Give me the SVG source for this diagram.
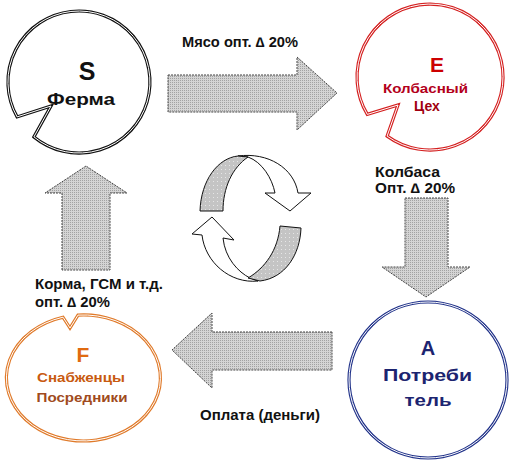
<svg xmlns="http://www.w3.org/2000/svg" width="529" height="470" viewBox="0 0 529 470">
<defs>
<pattern id="dots" width="2" height="2" patternUnits="userSpaceOnUse">
<rect width="2" height="2" fill="#d4d4d4"/>
<rect width="1" height="1" fill="#a2a2a2"/>
</pattern>
<pattern id="band" width="4" height="4" patternUnits="userSpaceOnUse">
<rect width="4" height="4" fill="#c4c4c4"/>
<rect x="1" y="1" width="1" height="1" fill="#e6e6e6"/>
</pattern>
</defs>
<style>
.bg{fill:#ffffff}
.arrow{fill:url(#dots);stroke:#444444;stroke-width:1;stroke-dasharray:2 1}
.inner{fill:none;stroke:#ffffff;stroke-width:1}
.lbl{font-family:"Liberation Sans",Arial,sans-serif;font-weight:bold;font-size:14px;fill:#111111}
.t{font-family:"Liberation Sans",Arial,sans-serif;font-weight:bold;text-anchor:middle}
.cw{fill:#ffffff;stroke:#111111;stroke-width:1}
.cg{fill:url(#band);stroke:#111111;stroke-width:1}
</style>
<rect class="bg" width="529" height="470"/>

<g id="connectors">
<path class="arrow" d="M168,75 L297,75 L297,57 L337,93 L297,130 L297,112 L168,112 Z"/>
<path class="arrow" d="M405,198 L448,198 L448,267 L470,267 L426,297 L382,267 L405,267 Z"/>
<path class="arrow" d="M332,332 L212,332 L212,313 L172,350 L212,388 L212,370 L332,370 Z"/>
<path class="arrow" d="M62,270 L62,193 L45,193 L86,166 L127,193 L110,193 L110,270 Z"/>
<text class="lbl" x="182" y="47" textLength="116" lengthAdjust="spacingAndGlyphs">Мясо опт. ∆ 20%</text>
<text class="lbl" x="375" y="177" textLength="65" lengthAdjust="spacingAndGlyphs">Колбаса</text>
<text class="lbl" x="375" y="193" textLength="80" lengthAdjust="spacingAndGlyphs">Опт. ∆ 20%</text>
<text class="lbl" x="35" y="289" textLength="128" lengthAdjust="spacingAndGlyphs">Корма, ГСМ и т.д.</text>
<text class="lbl" x="35" y="307" textLength="75" lengthAdjust="spacingAndGlyphs">опт. ∆ 20%</text>
<text class="lbl" x="200" y="420" textLength="120" lengthAdjust="spacingAndGlyphs">Оплата (деньги)</text>
</g>

<g id="cycle">
<path class="cw" d="M238,156 C268,152 294,168 298,193 L311,193 L290,211 L265,193 L275,193 C272,178 262,162 248,157 Z"/>
<path class="cg" d="M200,211 C201,180 218,158 238,156 L248,157 C232,168 223,188 223,211 Z"/>
<path class="cw" d="M258,281 C230,284 205,262 202,235 L192,234 L212,217 L234,240 L223,238 C225,258 238,272 250,278 Z"/>
<path class="cg" d="M301,228 C300,255 285,278 260,281 L248,278 C265,268 278,250 280,226 Z"/>
</g>

<g id="node-S">
<path d="M33.9,136.9 A71,71 0 1 0 17.1,116.9 L51,106 Z" fill="#ffffff" stroke="#111111" stroke-width="3.2"/>
<path class="inner" d="M33.9,136.9 A71,71 0 1 0 17.1,116.9 L51,106 Z"/>
<text class="t" x="87" y="80" font-size="25" fill="#111111">S</text>
<text class="t" x="81" y="105" font-size="16.5" fill="#111111" textLength="68" lengthAdjust="spacingAndGlyphs">Ферма</text>
</g>

<g id="node-E">
<path d="M387.1,136.1 A73,73 0 1 0 367.3,114.4 L398,105 Z" fill="#ffffff" stroke="#d42020" stroke-width="3.2"/>
<path class="inner" d="M387.1,136.1 A73,73 0 1 0 367.3,114.4 L398,105 Z"/>
<text class="t" x="437" y="72" font-size="21" fill="#cc0000">E</text>
<text class="t" x="425.5" y="93" font-size="13" fill="#b3001b" textLength="85" lengthAdjust="spacingAndGlyphs">Колбасный</text>
<text class="t" x="427" y="111" font-size="14" fill="#a00010">Цех</text>
</g>

<g id="node-F">
<path d="M78,315.1 A77,63 0 1 1 63,317.2 L70,328 Z" fill="#ffffff" stroke="#e07a2a" stroke-width="3.2"/>
<path class="inner" d="M78,315.1 A77,63 0 1 1 63,317.2 L70,328 Z"/>
<text class="t" x="83" y="362" font-size="21" fill="#e06a10">F</text>
<text class="t" x="81" y="382" font-size="12.5" fill="#c85a10" textLength="88" lengthAdjust="spacingAndGlyphs">Снабженцы</text>
<text class="t" x="82" y="402" font-size="13" fill="#a04a20" textLength="91" lengthAdjust="spacingAndGlyphs">Посредники</text>
</g>

<g id="node-A">
<ellipse cx="428" cy="380" rx="79" ry="78" fill="#ffffff" stroke="#22338a" stroke-width="3.2"/>
<ellipse class="inner" cx="428" cy="380" rx="79" ry="78"/>
<text class="t" x="428" y="355" font-size="20" fill="#1c2470">A</text>
<text class="t" x="427.5" y="381" font-size="16" fill="#1c2470" textLength="89" lengthAdjust="spacingAndGlyphs">Потреби</text>
<text class="t" x="428" y="406" font-size="16" fill="#1c2470" textLength="47" lengthAdjust="spacingAndGlyphs">тель</text>
</g>
</svg>
